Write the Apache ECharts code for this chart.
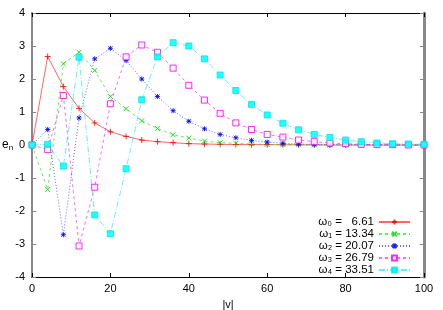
<!DOCTYPE html>
<html><head><meta charset="utf-8">
<script src="https://cdn.jsdelivr.net/npm/echarts@6/dist/echarts.min.js"></script>
<style>html,body{margin:0;padding:0;background:#fff}#c{width:443px;height:310px}</style>
</head><body><div id="c"></div>
<script>
var vValues = [0,4,8,12,16,20,24,28,32,36,40,44,48,52,56,60,64,68,72,76,80,84,88,92,96,100];
var e0 = [0,2.68,1.77,1.11,0.67,0.40,0.26,0.15,0.10,0.07,0.04,0.03,0.02,0.015,0.01,0.01,0.005,0.005,0,0,0,0,0,0,0,0];
var e1 = [0,-1.35,2.46,2.81,2.26,1.47,1.10,0.73,0.50,0.31,0.21,0.12,0.07,0.05,0.03,0.02,0.01,0.01,0.005,0,0,0,0,0,0,0];
var e2 = [0,0.47,-2.72,0.82,2.61,2.93,2.56,2.00,1.47,1.04,0.72,0.49,0.32,0.22,0.14,0.09,0.05,0.03,0.02,0.01,0.01,0,0,0,0,0];
var e3 = [0,-0.14,1.50,-3.06,-1.28,1.25,2.67,3.03,2.81,2.33,1.81,1.36,0.96,0.67,0.47,0.32,0.24,0.15,0.10,0.06,0.04,0.02,0.01,0.01,0,0];
var e4 = [0,0.02,-0.64,2.66,-2.12,-2.69,-0.72,1.37,2.67,3.10,3.00,2.61,2.12,1.65,1.23,0.91,0.66,0.46,0.32,0.23,0.15,0.10,0.06,0.04,0.03,0.02];
var omegaLabels = ['ω₀ =   6.61','ω₁ = 13.34','ω₂ = 20.07','ω₃ = 26.79','ω₄ = 33.51'];
var xTicks = [0,20,40,60,80,100];
var yTicks = [-4,-3,-2,-1,0,1,2,3,4];

function pairs(ys){ return vValues.map(function(v,i){ return [v, ys[i]]; }); }

var FONT = 'Liberation Sans, Arial, sans-serif';
var chart = echarts.init(document.getElementById('c'), null, {renderer:'canvas'});
var plus = 'path://M0,5L10,5M5,0L5,10';
var cross = 'path://M0,0L10,10M10,0L0,10';
var star = 'path://M0,5L10,5M5,0L5,10M1,1L9,9M9,1L1,9';

var specs = [
  {data:e0, color:'#ff0000', type:'solid', symbol:plus, fill:'none', size:6},
  {data:e1, color:'#00dd00', type:[3,3], symbol:cross, fill:'none', size:5},
  {data:e2, color:'#0000ff', type:[1,2], symbol:star, fill:'none', size:5},
  {data:e3, color:'#ff00ff', type:[3,3], symbol:'rect', fill:'#ffffff', size:6},
  {data:e4, color:'#00e5ee', type:[6,2,1,2], symbol:'rect', fill:'#00ffff', size:6}
];
var series = specs.map(function(s,i){
  return {
    name: omegaLabels[i], type:'line', data: pairs(s.data), symbol: s.symbol, symbolSize: s.size,
    showAllSymbol: true, animation:false,
    lineStyle:{color:s.color, width:1, type:s.type, opacity:0.6},
    itemStyle:{color: s.fill==='none' ? 'rgba(0,0,0,0)' : s.fill, borderColor:s.color, borderWidth:1, opacity:0.85},
    emphasis:{disabled:true}
  };
});

var axisLbl = {color:'#000', fontFamily:FONT, fontSize:11};
chart.setOption({
  animation:false,
  grid:{left:32, right:19, top:13, bottom:33, outerBoundsMode:'none', containLabel:false},
  legend:{
    orient:'vertical', right:32, top:216, align:'right', padding:0,
    itemWidth:31, itemHeight:6, itemGap:0,
    data: omegaLabels,
    textStyle:{width:56, align:'right', fontFamily:FONT, fontSize:11.5, lineHeight:11.5, color:'#000'}
  },
  graphic:[{
    type:'text', left:2, top:139,
    style:{text:'{e|e}{n|n}', fill:'#000', font:'12px '+FONT,
      rich:{e:{fontSize:12, fontFamily:FONT, fill:'#000'}, n:{fontSize:8, fontFamily:FONT, fill:'#000', padding:[6,0,0,0]}}}
  }],
  xAxis:[
    {type:'value', min:0, max:100, interval:20, position:'bottom',
     name:'|v|', nameLocation:'middle', nameGap:22, nameTextStyle:{fontFamily:FONT, fontSize:11, color:'#000'},
     axisLine:{onZero:false, lineStyle:{color:'#000', width:1}},
     axisTick:{inside:true, length:4, lineStyle:{color:'#000'}},
     axisLabel:Object.assign({margin:6}, axisLbl), splitLine:{show:false}},
    {type:'value', min:0, max:100, interval:20, position:'top',
     axisLine:{onZero:false, lineStyle:{color:'#000', width:1}},
     axisTick:{inside:true, length:4, lineStyle:{color:'#000'}},
     axisLabel:{show:false}, splitLine:{show:false}}
  ],
  yAxis:[
    {type:'value', min:-4, max:4, interval:1, position:'left',
     axisLine:{onZero:false, lineStyle:{color:'#888', width:2}},
     axisTick:{inside:true, length:4, lineStyle:{color:'#888'}},
     axisLabel:Object.assign({margin:7}, axisLbl), splitLine:{show:false}},
    {type:'value', min:-4, max:4, interval:1, position:'right',
     axisLine:{onZero:false, lineStyle:{color:'#888', width:3}},
     axisTick:{inside:true, length:4, lineStyle:{color:'#888'}},
     axisLabel:{show:false}, splitLine:{show:false}}
  ],
  series: series
});
</script></body></html>
